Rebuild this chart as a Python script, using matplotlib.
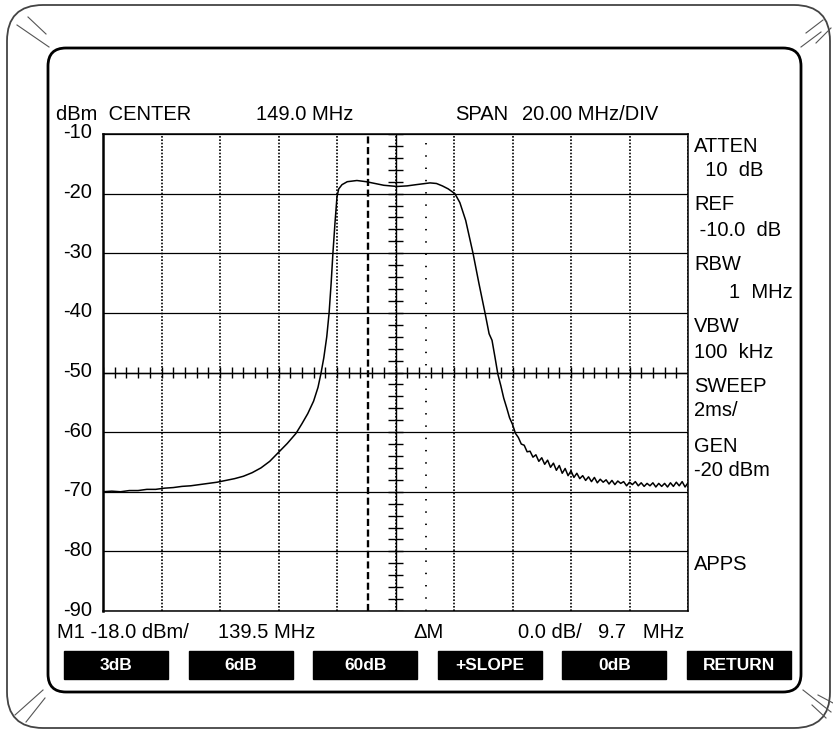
import numpy as np
import matplotlib
matplotlib.use("Agg")
from matplotlib import pyplot as plt
from matplotlib import font_manager
from matplotlib.patches import FancyBboxPatch, Rectangle
from matplotlib.transforms import ScaledTranslation

plt.rcParams["axes.unicode_minus"] = False

# screen settings
center_mhz = 149.0
span_per_div = 20.0
ref_dbm = -10.0
db_per_div = 10.0
marker_mhz = 139.5
delta_mhz = 159.5

# trace (MHz, dBm)
freq_mhz = [49, 52, 55, 58, 61, 64, 67, 70, 73, 76, 79, 82, 85, 88, 91, 94, 97,
            100, 103, 106, 109, 112, 115, 117, 119, 121, 122.5, 123.5, 124.5,
            125.5, 126.3, 127, 127.6, 128.3, 129.0, 129.6, 130.7, 132.5, 135.8,
            139, 142, 145, 149.5, 153, 156, 160.8, 163, 165, 167, 169.3, 171,
            173, 175.5, 177.5, 179.6, 181,
            182, 183, 184, 185, 186, 187, 188, 189, 190, 191, 192, 193, 194,
            195, 196, 197, 198, 199, 200, 201, 202, 203, 204, 205, 206, 207,
            208, 209, 210, 211, 212, 213, 214, 215, 216, 217, 218, 219, 220,
            221, 222, 223, 224, 225, 226, 227, 228, 229, 230, 231, 232, 233,
            234, 235, 236, 237, 238, 239, 240, 241, 242, 243, 244, 245, 246,
            247, 248, 249]
level_dbm = [-70.0, -69.9, -70.0, -69.8, -69.8, -69.6, -69.6, -69.4, -69.3,
             -69.1, -69.0, -68.8, -68.6, -68.4, -68.1, -67.8, -67.4,
             -66.8, -66.0, -64.9, -63.4, -61.9, -60.2, -58.6, -56.9, -54.8,
             -52.5, -50.2, -47.5, -44.0, -40.0, -35.0, -30.0, -25.0, -20.5,
             -19.2, -18.5, -18.0, -17.8, -18.0, -18.3, -18.6, -18.8, -18.7,
             -18.5, -18.2, -18.3, -18.7, -19.2, -20.0, -21.5, -24.5, -30.0,
             -35.0, -40.0, -43.5,
             -44.6, -47.4, -50.3, -52.2, -54.3, -55.9, -57.6, -58.7, -60.2,
             -60.9, -62.0, -62.2, -63.3, -63.2, -64.2, -63.8, -64.9, -64.3,
             -65.4, -64.7, -65.9, -65.2, -66.4, -65.6, -66.9, -66.1, -67.3,
             -66.5, -67.6, -66.9, -67.8, -67.3, -68.1, -67.5, -68.3, -67.6,
             -68.5, -67.9, -68.4, -68.0, -68.7, -68.1, -68.8, -68.2, -68.6,
             -68.3, -69.0, -68.4, -68.8, -68.3, -69.0, -68.5, -69.1, -68.6,
             -69.0, -68.5, -69.2, -68.6, -69.1, -68.6, -69.2, -68.5, -69.1,
             -68.4, -69.0, -68.3, -69.2, -68.5]

side_labels = [("ATTEN", 146), ("  10  dB", 171), ("REF", 205), (" -10.0  dB", 231),
               ("RBW", 265), ("VBW", 326), ("100  kHz", 352), ("SWEEP", 386),
               ("2ms/", 411), ("GEN", 446), ("-20 dBm", 471), ("APPS", 564)]
softkeys = ["3dB", "6dB", "60dB", "+SLOPE", "0dB", "RETURN"]

font = "Liberation Sans"
try:
    font_manager.findfont(font_manager.FontProperties(family="Liberation Sans Narrow"),
                          fallback_to_default=False)
    key_font = "Liberation Sans Narrow"
except ValueError:
    key_font = font

W, H = 833, 731
fig = plt.figure(figsize=(W / 100, H / 100), dpi=100)

# bezel drawn in pixel coordinates
bg = fig.add_axes([0, 0, 1, 1])
bg.set_xlim(0, W)
bg.set_ylim(H, 0)
bg.axis("off")
bg.add_patch(FancyBboxPatch((7, 5), 823, 723, boxstyle="round,pad=0,rounding_size=36",
                            fill=False, ec="#444444", lw=1.3))
bg.add_patch(FancyBboxPatch((48, 48), 753, 644, boxstyle="round,pad=0,rounding_size=18",
                            fill=False, ec="black", lw=2))
for (x0, y0, x1, y1) in [(17, 25, 49, 47), (28, 17, 46, 34),
                         (806, 33, 823, 20), (801, 47, 821, 32), (816, 43, 831, 28),
                         (15, 715, 43, 690), (26, 722, 45, 698),
                         (803, 690, 831, 712), (812, 705, 826, 718), (818, 695, 833, 703)]:
    bg.plot([x0, x1], [y0, y1], color="#555555", lw=0.8)

# graticule
ax = fig.add_axes([103 / W, (H - 611) / H, 585 / W, 477 / H])
x_lo = center_mhz - 5 * span_per_div
x_hi = center_mhz + 5 * span_per_div
ax.set_xlim(x_lo, x_hi)
ax.set_ylim(ref_dbm - 8 * db_per_div, ref_dbm)
ax.set_xticks(np.arange(x_lo, x_hi + 1, span_per_div))
ax.set_xticklabels([])
ax.set_yticks(np.arange(-90, -9, 10))
ax.tick_params(length=0, pad=8, labelsize=14.5)
lift = ScaledTranslation(0, 0.03, fig.dpi_scale_trans)
for lab in ax.get_yticklabels():
    lab.set_fontfamily(font)
    lab.set_transform(lab.get_transform() + lift)
ax.xaxis.grid(True, color="black", lw=1.2, ls=(0, (1, 1)))
ax.yaxis.grid(True, color="black", lw=0.9)
for s in ax.spines.values():
    s.set_color("black")
    s.set_linewidth(1.1)
ax.spines["left"].set_linewidth(1.8)

# center crosshair with minor ticks
mid_db = ref_dbm - 4 * db_per_div
ax.axhline(mid_db, color="black", lw=1.0)
ax.axvline(center_mhz, color="black", lw=1.0)
ax.vlines(np.arange(x_lo, x_hi, span_per_div / 5), mid_db - 1.0, mid_db + 1.0,
          color="black", lw=1.0)
ax.hlines(np.arange(-90, -9, db_per_div / 5), center_mhz - 2.7, center_mhz + 2.7,
          color="black", lw=1.0)

# markers
ax.axvline(marker_mhz, color="black", lw=1.7, ls=(0, (3, 1.5)))
ax.axvline(delta_mhz, color="black", lw=1.3, ls=(0, (0.8, 6)))

ax.plot(freq_mhz, level_dbm, color="black", lw=1.1)

# screen text
fs = 14.5
tk = dict(fontsize=fs, family=font, va="center", ha="left")
bg.text(56, 115, "dBm  CENTER", **tk)
bg.text(256, 115, "149.0 MHz", **tk)
bg.text(455, 115, "SPAN", **tk)
bg.text(522, 115, "20.00 MHz/DIV", **tk)
for txt, y in side_labels:
    bg.text(694, y, txt, **tk)
bg.text(793, 292, "1  MHz", fontsize=fs, family=font, va="center", ha="right")

bg.text(57, 633, "M1 -18.0 dBm/", **tk)
bg.text(218, 633, "139.5 MHz", **tk)
bg.text(413, 633, "\u0394M", **tk)
bg.text(518, 633, "0.0 dB/", **tk)
bg.text(598, 633, "9.7   MHz", **tk)

for i, key in enumerate(softkeys):
    x0 = 64 + i * 124.6
    bg.add_patch(Rectangle((x0, 651), 104, 28, color="black"))
    bg.text(x0 + 52, 665, key, color="white", fontsize=12.5, family=key_font,
            weight="bold", ha="center", va="center")

fig.savefig("out.png", dpi=100)
